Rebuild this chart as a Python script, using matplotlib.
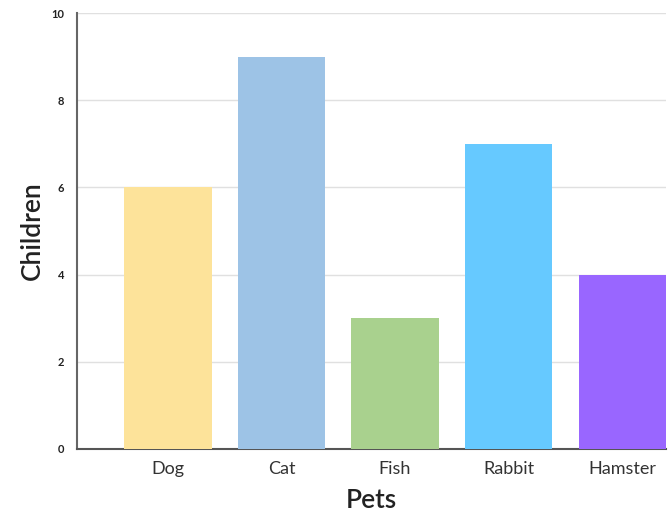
import matplotlib
matplotlib.use("Agg")
import matplotlib.pyplot as plt

categories = ["Dog", "Cat", "Fish", "Rabbit", "Hamster"]
values = [6, 9, 3, 7, 4]
colors = ["#FDE39A", "#9DC3E6", "#A9D18E", "#66C9FF", "#9966FF"]
yticks = [0, 2, 4, 6, 8, 10]

plt.rcParams['font.family'] = ['Lato', 'DejaVu Sans']

fig = plt.figure(figsize=(6.69, 5.25), dpi=100)
ax = fig.add_axes([0.115, 0.145, 0.8805, 0.83])
x = list(range(len(categories)))
ax.bar(x, values, width=0.77, color=colors, zorder=3)
ax.set_xlim(-0.8, 4.385)
ax.set_ylim(0, 10)
ax.set_yticks(yticks)
ax.set_yticklabels([str(t) for t in yticks], fontsize=8, fontweight='bold', color='#222222')
ax.set_xticks(x)
ax.set_xticklabels(categories, fontsize=13, color='#333333')
ax.tick_params(axis='both', length=0)
ax.tick_params(axis='x', pad=9)
ax.tick_params(axis='y', pad=9)
ax.grid(axis='y', color='#E0E0E0', linewidth=1, zorder=0)
for s in ['top', 'right']:
    ax.spines[s].set_visible(False)
ax.spines['left'].set_color('#666666')
ax.spines['bottom'].set_color('#555555')
ax.spines['left'].set_linewidth(1.5)
ax.spines['bottom'].set_linewidth(1.5)
ax.set_xlabel("Pets", fontsize=19, color='#222222', labelpad=8, fontweight='semibold')
ax.set_ylabel("Children", fontsize=19, color='#222222', labelpad=5, fontweight='semibold')
fig.savefig("out.png", dpi=100)
